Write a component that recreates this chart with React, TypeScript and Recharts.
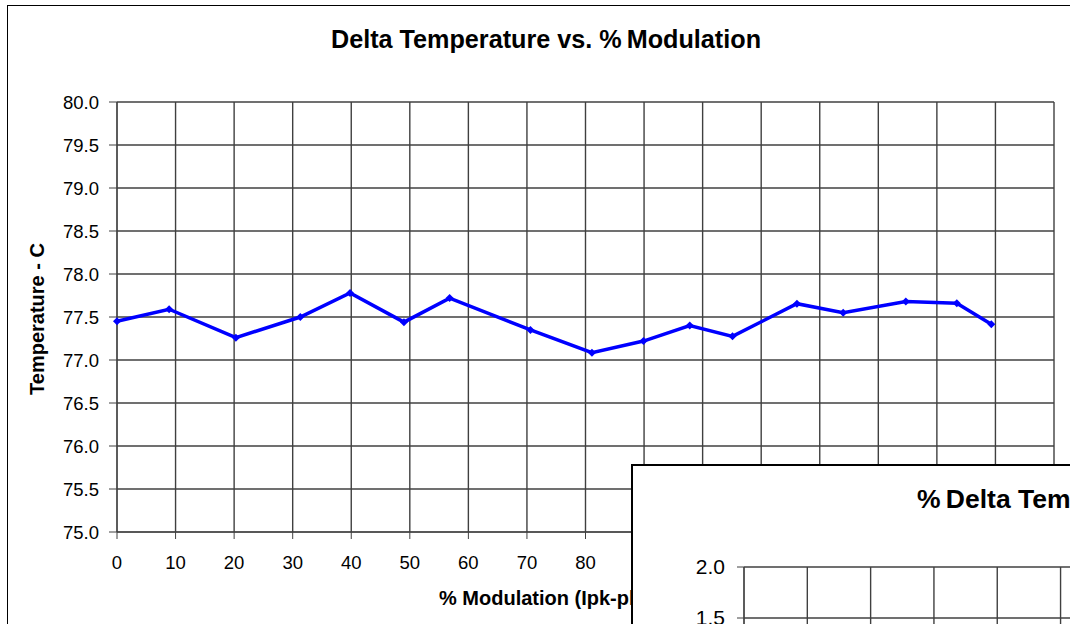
import React from 'react';
import { LineChart, Line, XAxis, YAxis, CartesianGrid } from 'recharts';

const modulation = [0, 8.9, 20.3, 31.3, 39.8, 49.0, 56.8, 70.6, 81.1, 89.9, 97.8, 105.1, 116.1, 124.0, 134.7, 143.4, 149.3];
const temperature = [77.45, 77.59, 77.26, 77.5, 77.78, 77.44, 77.72, 77.35, 77.085, 77.22, 77.4, 77.275, 77.655, 77.55, 77.68, 77.66, 77.415];
const xTicks = [0, 10, 20, 30, 40, 50, 60, 70, 80, 90, 100, 110, 120, 130, 140, 150, 160];
const yTicks = [75, 75.5, 76, 76.5, 77, 77.5, 78, 78.5, 79, 79.5, 80];
const deltaYTicks = [0, 0.5, 1, 1.5, 2];

const mainTitle = 'Delta Temperature vs. %\u2009Modulation';
const xTitle = '% Modulation (Ipk-pk / Iavg)';
const yTitle = 'Temperature - C';
const secondTitle = '%\u2009Delta Temperature vs. %\u2009Modulation';

const data = modulation.map((m, i) => ({ m, t: temperature[i] }));
// second (overlapping) chart: its curve lies below the visible window, values unknown
const secondData = xTicks.map((m) => ({ m, d: null as number | null }));

const FONT = '"Liberation Sans", Arial, sans-serif';
const GRID = '#404040';

const Diamond = (props: any) => {
  const { cx, cy } = props;
  if (cx == null || cy == null) return null;
  const r = 4;
  return <path d={`M${cx},${cy - r}L${cx + r},${cy}L${cx},${cy + r}L${cx - r},${cy}Z`} fill="#0000FF" stroke="none" />;
};

export default function App() {
  return (
    <div style={{ position: 'fixed', left: 0, top: 0, width: 1070, height: 624, overflow: 'hidden', background: '#fff', fontFamily: FONT }}>
      <div style={{ position: 'absolute', left: 7, top: 5, width: 1100, height: 700, border: '1px solid #000', boxSizing: 'border-box' }} />
      <div style={{ position: 'absolute', left: 0, top: 0 }}>
        <LineChart width={1100} height={640} data={data} margin={{ top: 102, right: 46, bottom: 48, left: 57 }}>
          <CartesianGrid stroke={GRID} strokeWidth={1.4} horizontalValues={yTicks} verticalValues={xTicks} />
          <XAxis
            dataKey="m"
            type="number"
            domain={[0, 160]}
            ticks={xTicks}
            interval={0}
            height={60}
            tickSize={7}
            tickMargin={17}
            stroke={GRID}
            tick={{ fill: '#000', fontSize: 18.5, fontFamily: FONT }}
          />
          <YAxis
            type="number"
            domain={[75, 80]}
            ticks={yTicks}
            interval={0}
            width={60}
            tickSize={8}
            tickMargin={10}
            stroke={GRID}
            tickFormatter={(v: number) => v.toFixed(1)}
            tick={{ fill: '#000', fontSize: 18.5, fontFamily: FONT }}
          />
          <Line dataKey="t" stroke="#0000FF" strokeWidth={3.5} dot={<Diamond />} activeDot={false} isAnimationActive={false} />
        </LineChart>
      </div>
      <svg width={1070} height={624} style={{ position: 'absolute', left: 0, top: 0, pointerEvents: 'none' }}>
        <text x={546} y={48} textAnchor="middle" fontFamily={FONT} fontWeight="bold" fontSize={25.2} fill="#000">{mainTitle}</text>
        <text x={44} y={319} textAnchor="middle" fontFamily={FONT} fontWeight="bold" fontSize={20} fill="#000" transform="rotate(-90, 44, 319)">{yTitle}</text>
        <text x={439} y={605} textAnchor="start" fontFamily={FONT} fontWeight="bold" fontSize={20} fill="#000">{xTitle}</text>
      </svg>
      <div style={{ position: 'absolute', left: 631, top: 464, width: 1200, height: 600, border: '2px solid #000', background: '#fff', boxSizing: 'border-box' }} />
      <div style={{ position: 'absolute', left: 632, top: 465 }}>
        <LineChart width={1200} height={420} data={secondData} margin={{ top: 102, right: 75, bottom: 54, left: 52 }}>
          <CartesianGrid stroke={GRID} strokeWidth={1.4} horizontalValues={deltaYTicks} verticalValues={xTicks} />
          <XAxis
            dataKey="m"
            type="number"
            domain={[0, 160]}
            ticks={xTicks}
            interval={0}
            height={60}
            tickSize={7}
            tickMargin={18}
            stroke={GRID}
            tick={{ fill: '#000', fontSize: 21, fontFamily: FONT }}
          />
          <YAxis
            type="number"
            domain={[0, 2]}
            ticks={deltaYTicks}
            interval={0}
            allowDataOverflow
            width={60}
            tickSize={7}
            tickMargin={12}
            stroke={GRID}
            tickFormatter={(v: number) => v.toFixed(1)}
            tick={{ fill: '#000', fontSize: 21, fontFamily: FONT }}
          />
          <Line dataKey="d" stroke="#0000FF" strokeWidth={3.5} dot={false} activeDot={false} isAnimationActive={false} />
        </LineChart>
      </div>
      <svg width={1070} height={624} style={{ position: 'absolute', left: 0, top: 0, pointerEvents: 'none' }}>
        <text x={917} y={508} textAnchor="start" fontFamily={FONT} fontWeight="bold" fontSize={26.5} fill="#000">{secondTitle}</text>
      </svg>
    </div>
  );
}
